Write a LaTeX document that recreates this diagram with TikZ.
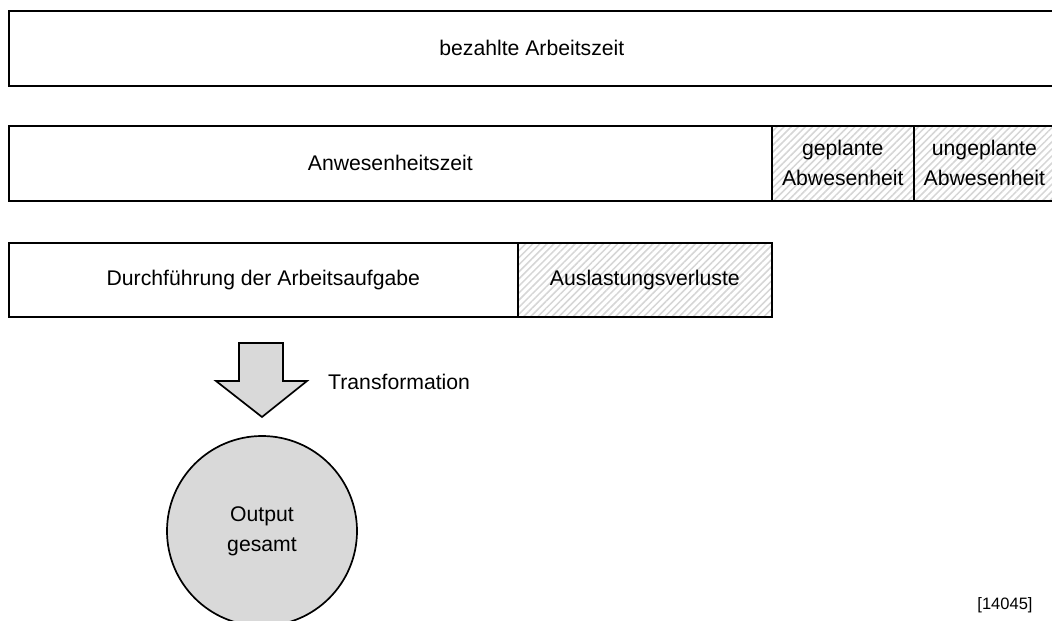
\documentclass[tikz,border=0pt]{standalone}
\usepackage{fontspec}
\setmainfont{Liberation Sans}
\usetikzlibrary{patterns.meta}
\begin{document}
\begin{tikzpicture}[x=1pt,y=-1pt,
  lbl/.style={font=\fontsize{21.2}{30}\selectfont, align=center},
  box/.style={draw, line width=1.7pt, inner sep=0pt, anchor=north west, lbl},
  hatched/.style={box, preaction={fill=white},
    pattern={Lines[angle=45,distance=5pt,line width=1.5pt]}, pattern color=gray!32},
  shade/.style={fill=gray!30, draw, line width=1.7pt}]
\useasboundingbox (0,0) rectangle (1052,621);
% row 1
\node[box, minimum width=1046pt, minimum height=75pt] (paid) at (8,10) {bezahlte Arbeitszeit};
% row 2
\node[box, minimum width=763pt, minimum height=75pt] (pres) at (8,125) {Anwesenheitszeit};
\node[hatched, minimum width=142pt, minimum height=75pt] (plan) at (771,125) {geplante\\Abwesenheit};
\node[hatched, minimum width=141pt, minimum height=75pt] (unplan) at (913,125) {ungeplante\\Abwesenheit};
% row 3
\node[box, minimum width=509pt, minimum height=74pt] (task) at (8,242) {Durchführung der Arbeitsaufgabe};
\node[hatched, minimum width=254pt, minimum height=74pt] (loss) at (517,242) {Auslastungsverluste};
% arrow
\draw[shade, line join=miter] (239,343) -- (283,343) -- (283,381) -- (307,381) -- (262,417) -- (216,381) -- (239,381) -- cycle;
\node[lbl, anchor=west, inner sep=0pt] (trans) at (328,382) {Transformation};
% output
\node[shade, circle, minimum size=190pt, inner sep=0pt, lbl] (out) at (262,531) {Output\\gesamt};
\node[font=\fontsize{16.5}{20}\selectfont, inner sep=0pt] (id) at (1005,605) {[14045]};
\end{tikzpicture}
\end{document}
